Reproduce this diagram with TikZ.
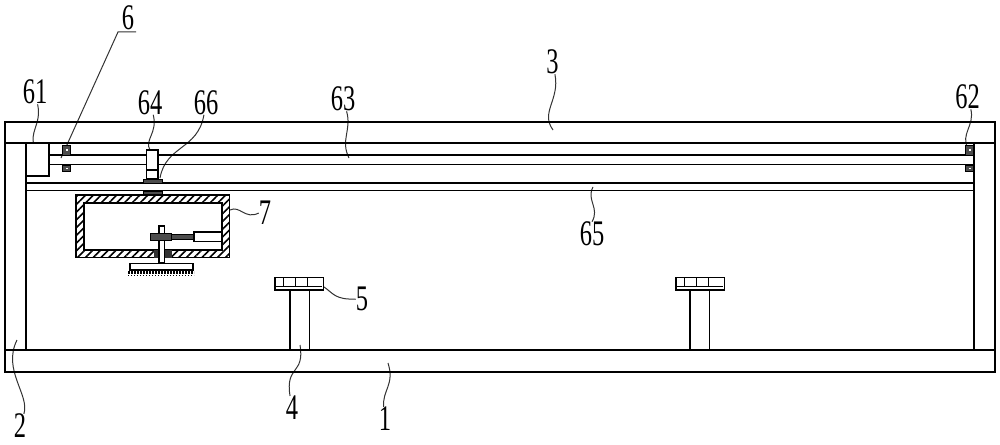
\documentclass[tikz,border=0pt]{standalone}
\usepackage{fontspec}
\setmainfont{Liberation Serif}
\usetikzlibrary{patterns.meta}
\begin{document}
\begin{tikzpicture}[x=1pt, y=-1pt,
main/.style = {inner sep=0pt, xscale=0.68, font=\fontsize{36}{36}\selectfont},
part/.style = {draw, line width=1.8pt, fill=white},
wall/.style = {line width=1.8pt},
lead/.style = {line width=1pt, black!80},
hatch/.style = {pattern={Lines[angle=45, distance=5.5pt, line width=1.6pt]}},
dark/.style = {draw, line width=1pt, fill=black!70}]
\useasboundingbox (0,0) rectangle (1000,444);

% labels
\node[main] (6) at (128,17.5) {6};
\node[main] (61) at (35,92) {61};
\node[main] (64) at (150,102.5) {64};
\node[main] (66) at (206,102.5) {66};
\node[main] (63) at (343,99) {63};
\node[main] (3) at (552.5,62) {3};
\node[main] (62) at (967.5,97) {62};
\node[main] (65) at (592,234) {65};
\node[main] (7) at (265,213) {7};
\node[main] (5) at (362,299) {5};
\node[main] (4) at (292,408) {4};
\node[main] (1) at (385,419) {1};
\node[main] (2) at (20,426) {2};

\coordinate (u6) at (118,32);
\coordinate (u6r) at (136,32);
\coordinate (e6) at (61,158);
\coordinate (e61) at (35,148);
\coordinate (e64) at (150,150);
\coordinate (e66) at (160,178);
\coordinate (e63) at (349,158);
\coordinate (e3) at (553,130);
\coordinate (e62) at (968,148);
\coordinate (e65) at (593,187);
\coordinate (e7) at (230,210);
\coordinate (e5) at (324,287);
\coordinate (e4) at (300,345);
\coordinate (e1) at (388,363);
\coordinate (e2) at (17,340);

% leaders
\draw[lead] (u6r) -- (u6) -- (e6);
\draw[lead] (61) .. controls (42,125) and (28,132) .. (e61);
\draw[lead] (64) .. controls (158,133) and (144,140) .. (e64);
\draw[lead] (66) .. controls (198,150) and (166,145) .. (e66);
\draw[lead] (63) .. controls (352,130) and (340,140) .. (e63);
\draw[lead] (3) .. controls (560,100) and (540,112) .. (e3);
\draw[lead] (62) .. controls (975,125) and (960,135) .. (e62);
\draw[lead] (e65) .. controls (586,200) and (600,208) .. (65.north);
\draw[lead] (e7) .. controls (240,205) and (245,220) .. (7.west);
\draw[lead] (e5) .. controls (333,293) and (335,300) .. (5.west);
\draw[lead] (4) .. controls (285,365) and (305,375) .. (e4);
\draw[lead] (1) .. controls (382,390) and (395,385) .. (e1);
\draw[lead] (2) .. controls (30,395) and (2,370) .. (e2);

% frame
\draw[wall] (5,122) rectangle (995,372);
\draw[wall] (5,143) -- (995,143);
\draw[wall] (5,350) -- (995,350);
\draw[wall] (26,143) -- (26,350);
\draw[wall] (974,143) -- (974,350);
\draw[wall] (26,183) -- (974,183);
\draw[wall] (26,190.5) -- (974,190.5);

% lead screw and bearings
\draw[wall] (49,155) -- (974,155);
\draw[wall] (49,164.5) -- (974,164.5);
\draw[part] (26,143) rectangle (49,176);
\foreach \x in {62.5, 965.5} {
  \draw[dark] (\x,145) rectangle (\x+8,155);
  \draw[dark] (\x,165) rectangle (\x+8,171.5);
  \fill[white] (\x+3,148.5) rectangle (\x+5,151);
  \fill[white] (\x+3,167.5) rectangle (\x+5,169);
}

% nut and slider
\draw[part] (146.5,150) rectangle (158,179);
\draw[wall] (146.5,170) -- (158,170);
\draw[dark] (143,179) rectangle (162,183);
\draw[dark] (143,191) rectangle (162,195);

% box 7
\draw[hatch, even odd rule] (76,195) rectangle (229.5,257.5) (84,203) rectangle (222,250);
\draw[wall] (76,195) rectangle (229.5,257.5);
\draw[wall] (84,203) rectangle (222,250);

% motor, shaft and brush
\draw[dark] (171,234.5) rectangle (194,239.5);
\draw[part] (194,232) rectangle (222,241.5);
\fill[black!80] (154,250) rectangle (172,257.5);
\draw[part] (159,226) rectangle (164.5,263);
\draw[dark] (150,233) rectangle (171,240);
\draw[part] (130,263.5) rectangle (193,270);
\draw[line width=3pt, dash pattern=on 1.8pt off 1.2pt] (128,272.5) -- (194,272.5);
\draw[line width=1.2pt, dash pattern=on 1pt off 2pt] (128,275.5) -- (194,275.5);

% supports
\foreach \x/\w in {275/290, 676/690} {
  \draw[wall] (\w,290) -- (\w,350);
  \draw[wall] (\w+19.5,290) -- (\w+19.5,350);
  \draw[part] (\x,277.5) rectangle (\x+48.5,290);
  \draw[line width=0.9pt] (\x+1,286) -- (\x+47,286);
  \foreach \t in {8,20,32} {
    \draw[line width=0.9pt] (\x+\t,278) -- (\x+\t,286);
  }
}
\end{tikzpicture}
\end{document}
